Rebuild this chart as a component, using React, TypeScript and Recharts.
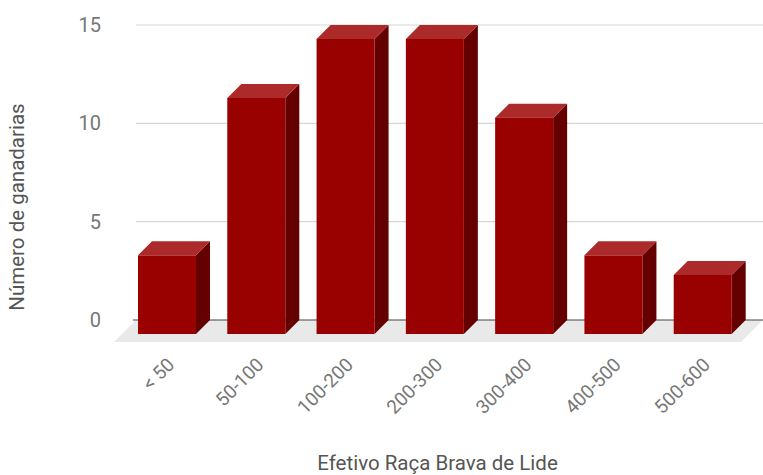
import { BarChart, Bar, XAxis, YAxis, CartesianGrid } from "recharts";

const categories = ["< 50", "50-100", "100-200", "200-300", "300-400", "400-500", "500-600"];
const ganadarias = [4, 12, 15, 15, 11, 4, 3];
const yTicks = [0, 5, 10, 15];

const data = categories.map((c, i) => ({ cat: c, n: ganadarias[i] }));

const DEPTH = 14;
const FRONT = "#990000";
const TOP = "#ad2a2a";
const SIDE = "#650000";
const FONT = "Roboto, 'Noto Sans', sans-serif";

// 3D-looking column: (x, y, width, height) is the back face
function Column(props: any) {
  const { x, y, width: w, height: h } = props;
  if (w == null || h == null) return null;
  const d = DEPTH;
  return (
    <g>
      <polygon
        points={`${x + w - d},${y + d} ${x + w},${y} ${x + w},${y + h} ${x + w - d},${y + h + d}`}
        fill={SIDE}
      />
      <polygon
        points={`${x - d},${y + d} ${x},${y} ${x + w},${y} ${x + w - d},${y + d}`}
        fill={TOP}
      />
      <rect x={x - d} y={y + d} width={w} height={h} fill={FRONT} />
    </g>
  );
}

// grid lines; the baseline gets the floor and a darker stroke
function GridLine(props: any) {
  const { x1, y1, x2, y2, y, height } = props;
  const isBase = y != null && height != null && Math.abs(y1 - (y + height)) < 1;
  if (isBase) {
    const f = 22;
    return (
      <g>
        <polygon
          points={`${x1},${y1} ${x2 + 2},${y1} ${x2 + 2 - f},${y1 + f} ${x1 - f},${y1 + f}`}
          fill="#e9e9e9"
        />
        <line x1={x1 - 3} y1={y1} x2={x2 + 2} y2={y2} stroke="#444" strokeWidth={1.2} />
      </g>
    );
  }
  return <line x1={x1} y1={y1} x2={x2 + 2} y2={y2} stroke="#d6d6d6" strokeWidth={1.2} />;
}

function XTick(props: any) {
  const { x, payload } = props;
  return (
    <text
      transform={`translate(${x - 5},${366}) rotate(-45)`}
      textAnchor="end"
      fontSize={19}
      fontFamily={FONT}
      fill="#777"
    >
      {payload.value}
    </text>
  );
}

export default function App() {
  return (
    <div style={{ position: "absolute", left: 0, top: 0, width: 763, height: 475, background: "#fff" }}>
      <BarChart
        width={763}
        height={475}
        data={data}
        margin={{ top: 25, right: 2, bottom: 55, left: 0 }}
        barSize={58}
      >
        <CartesianGrid vertical={false} horizontal={GridLine} />
        <XAxis
          dataKey="cat"
          axisLine={false}
          tickLine={false}
          height={100}
          interval={0}
          tick={XTick}
          label={{
            content: ({ viewBox }: any) => (
              <text
                x={viewBox.x + viewBox.width / 2 - 11}
                y={470}
                textAnchor="middle"
                fontSize={20.5}
                fontFamily={FONT}
                fill="#555"
              >
                Efetivo Raça Brava de Lide
              </text>
            ),
          }}
        />
        <YAxis
          domain={[0, 15]}
          ticks={yTicks}
          width={136}
          axisLine={false}
          tickLine={false}
          tickMargin={29}
          tick={{ fill: "#777", fontSize: 20, fontFamily: FONT }}
          label={{
            content: () => (
              <text
                transform="translate(24,207) rotate(-90)"
                textAnchor="middle"
                fontSize={20.5}
                fontFamily={FONT}
                fill="#555"
              >
                Número de ganadarias
              </text>
            ),
          }}
        />
        <Bar dataKey="n" shape={Column} isAnimationActive={false} />
      </BarChart>
    </div>
  );
}
